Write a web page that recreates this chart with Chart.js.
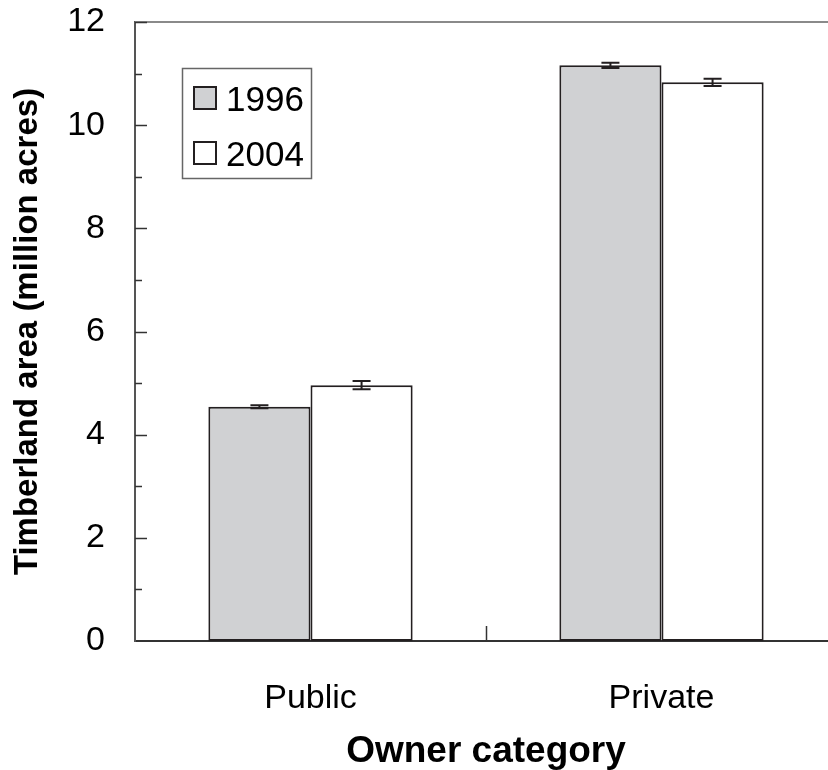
<!DOCTYPE html>
<html>
<head>
<meta charset="utf-8">
<script src="https://cdn.jsdelivr.net/npm/chart.js@4.4.1/dist/chart.umd.min.js"></script>
<style>
  html, body { margin: 0; padding: 0; background: #fff; overflow: hidden; }
  #wrap { width: 828px; height: 770px; overflow: hidden; }
  #box { width: 837px; height: 770px; }
</style>
</head>
<body>
<div id="wrap"><div id="box"><canvas id="areaChart"></canvas></div></div>
<script>
// timberland area by owner, million acres
const owners = ['Public', 'Private'];
const years = ['1996', '2004'];
const area1996 = [4.54, 11.16];
const area2004 = [4.96, 10.83];
const err1996 = [0.03, 0.05];
const err2004 = [0.08, 0.07];
const yMin = 0, yMax = 12, yStep = 2;

const FONT = "'Liberation Sans', Arial, sans-serif";
const INK = '#231f20';
const fills = ['#d0d1d3', '#ffffff'];
const errors = [err1996, err2004];

// frame line, inward ticks, error bars and the boxed legend
const extras = {
    id: 'extras',
    afterDatasetsDraw(chart) {
        const ctx = chart.ctx;
        const area = chart.chartArea;
        const x = chart.scales.x;
        const y = chart.scales.y;
        ctx.save();

        // top frame line
        ctx.strokeStyle = '#8a8a8a';
        ctx.lineWidth = 2;
        ctx.beginPath();
        ctx.moveTo(area.left, area.top);
        ctx.lineTo(area.right, area.top);
        ctx.stroke();

        // y ticks pointing into the plot, minor ones shorter
        ctx.strokeStyle = '#333';
        ctx.lineWidth = 1.5;
        for (let v = yMin + 1; v <= yMax; v++) {
            const py = Math.round(y.getPixelForValue(v)) + 0.5;
            const len = v % yStep === 0 ? 12 : 7;
            ctx.beginPath();
            ctx.moveTo(area.left, py);
            ctx.lineTo(area.left + len, py);
            ctx.stroke();
        }

        // tick between the two owner groups
        const mid = (x.getPixelForValue(0) + x.getPixelForValue(1)) / 2;
        ctx.beginPath();
        ctx.moveTo(Math.round(mid) + 0.5, area.bottom);
        ctx.lineTo(Math.round(mid) + 0.5, area.bottom - 15);
        ctx.stroke();

        // error bars
        ctx.strokeStyle = INK;
        ctx.lineWidth = 2;
        chart.data.datasets.forEach((ds, i) => {
            chart.getDatasetMeta(i).data.forEach((bar, j) => {
                const v = ds.data[j];
                const e = errors[i][j];
                const hi = y.getPixelForValue(v + e);
                const lo = y.getPixelForValue(v - e);
                ctx.beginPath();
                ctx.moveTo(bar.x, hi);
                ctx.lineTo(bar.x, lo);
                ctx.moveTo(bar.x - 9, hi);
                ctx.lineTo(bar.x + 9, hi);
                ctx.moveTo(bar.x - 9, lo);
                ctx.lineTo(bar.x + 9, lo);
                ctx.stroke();
            });
        });

        // legend box
        const lx = area.left + 47, ly = area.top + 46;
        ctx.strokeStyle = '#666';
        ctx.lineWidth = 1.5;
        ctx.strokeRect(lx + 0.5, ly + 0.5, 129, 110);
        ctx.font = '35px ' + FONT;
        ctx.textBaseline = 'alphabetic';
        chart.data.datasets.forEach((ds, i) => {
            const sy = ly + 19 + i * 55;
            ctx.fillStyle = ds.backgroundColor;
            ctx.fillRect(lx + 12, sy, 22, 22);
            ctx.strokeStyle = INK;
            ctx.lineWidth = 2;
            ctx.strokeRect(lx + 12, sy, 22, 22);
            ctx.fillStyle = '#000';
            ctx.fillText(ds.label, lx + 44, sy + 24);
        });
        ctx.restore();
    }
};

const ctx = document.getElementById('areaChart').getContext('2d');
const areaChart = new Chart(ctx, {
    type: 'bar',
    data: {
        labels: owners,
        datasets: [
            {
                label: years[0],
                data: area1996,
                backgroundColor: fills[0],
                borderColor: INK,
                borderWidth: 2,
                borderSkipped: false
            },
            {
                label: years[1],
                data: area2004,
                backgroundColor: fills[1],
                borderColor: INK,
                borderWidth: 2,
                borderSkipped: false
            }
        ]
    },
    options: {
        responsive: true,
        maintainAspectRatio: false,
        animation: false,
        categoryPercentage: 0.582,
        barPercentage: 1.0,
        layout: { padding: { top: 22, right: 0, left: 0, bottom: 0 } },
        plugins: {
            legend: { display: false },
            tooltip: { enabled: false }
        },
        scales: {
            x: {
                grid: { display: false, drawTicks: false },
                border: { display: true, color: '#333', width: 2 },
                ticks: { color: '#000', padding: 37, font: { family: FONT, size: 34 } },
                title: {
                    display: true,
                    text: 'Owner category',
                    color: '#000',
                    padding: 0,
                    font: { family: FONT, size: 37, weight: 'bold', lineHeight: 1.0 }
                },
                afterFit: (scale) => {
                    scale.height = 129;
                    scale.paddingLeft = 0;
                    scale.paddingRight = 0;
                }
            },
            y: {
                min: yMin,
                max: yMax,
                grid: { display: false, drawTicks: false },
                border: { display: true, color: '#555', width: 2 },
                ticks: { stepSize: yStep, color: '#000', padding: 30, font: { family: FONT, size: 34 } },
                title: {
                    display: true,
                    text: 'Timberland area (million acres)',
                    color: '#000',
                    padding: { top: 8, bottom: 0 },
                    font: { family: FONT, size: 33, weight: 'bold', lineHeight: 1.2 }
                },
                afterFit: (scale) => {
                    scale.width = 135;
                    scale.paddingTop = 0;
                    scale.paddingBottom = 0;
                }
            }
        }
    },
    plugins: [extras]
});
</script>
</body>
</html>
